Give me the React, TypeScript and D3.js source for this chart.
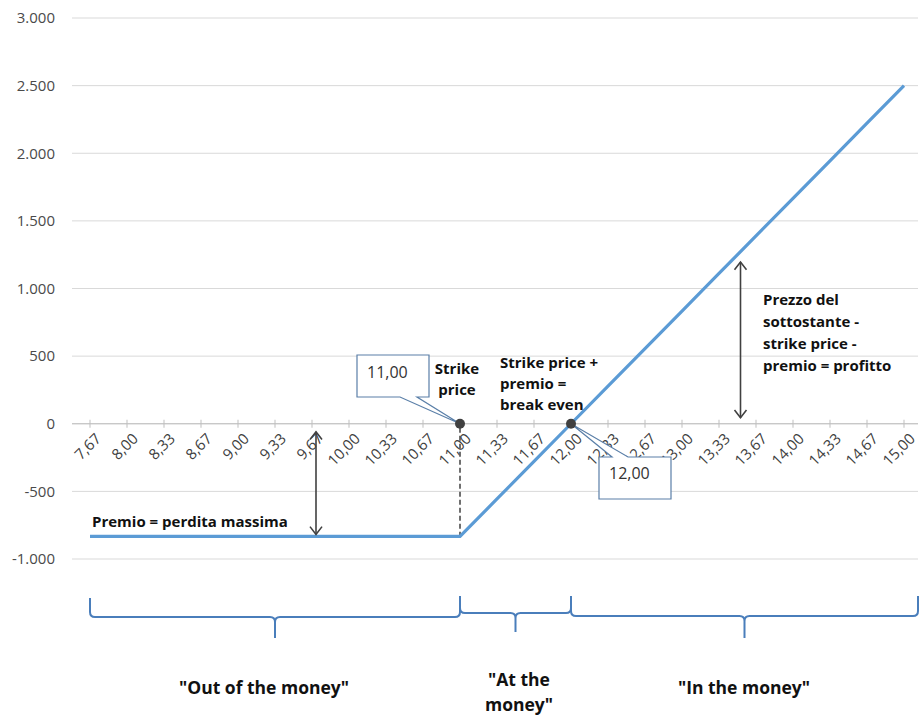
import React from "react";
import * as d3 from "d3";

const categories = ["7,67","8,00","8,33","8,67","9,00","9,33","9,67","10,00","10,33","10,67","11,00","11,33","11,67","12,00","12,33","12,67","13,00","13,33","13,67","14,00","14,33","14,67","15,00"];
const profit = [-833,-833,-833,-833,-833,-833,-833,-833,-833,-833,-833,-556,-278,0,278,556,833,1111,1389,1667,1944,2222,2500];
const yTicks = [-1000,-500,0,500,1000,1500,2000,2500,3000];

const W = 920, H = 715;
const x = d3.scalePoint<string>().domain(categories).range([90, 904]);
const y = d3.scaleLinear().domain([-1000, 3000]).range([559, 18]);
const gridX0 = 72, gridX1 = 918;

const fmtY = (v: number) => {
  const s = d3.format(",")(v).replace(/,/g, ".");
  return s.replace("−", "-");
};

const line = d3.line<number>().x((_, i) => x(categories[i])!).y((d) => y(d));

function brace(x0: number, x1: number, y0: number, ym: number, yt: number) {
  const r = 5;
  const xm = (x0 + x1) / 2;
  return `M${x0},${y0} L${x0},${ym - r} Q${x0},${ym} ${x0 + r},${ym} L${xm - r},${ym} Q${xm},${ym} ${xm},${ym + r} L${xm},${yt} M${xm},${ym + r} Q${xm},${ym} ${xm + r},${ym} L${x1 - r},${ym} Q${x1},${ym} ${x1},${ym - r} L${x1},${y0}`;
}

function DoubleArrow({ x0, y0, y1 }: { x0: number; y0: number; y1: number }) {
  const a = 6;
  return (
    <g stroke="#404040" strokeWidth={1.6} fill="none">
      <line x1={x0} y1={y0} x2={x0} y2={y1} />
      <path d={`M${x0 - a},${y0 + a * 1.3} L${x0},${y0} L${x0 + a},${y0 + a * 1.3}`} />
      <path d={`M${x0 - a},${y1 - a * 1.3} L${x0},${y1} L${x0 + a},${y1 - a * 1.3}`} />
    </g>
  );
}

const SANS = "'Open Sans', 'Noto Sans', sans-serif";

export default function App() {
  const ann = { fontFamily: SANS, fontWeight: 700, fill: "#111" } as const;
  const xs = x("11,00")!;
  const xb = x("12,00")!;
  const y0 = y(0);
  const yp = y(profit[0]);
  const boxStroke = "#5a7fa8";
  return (
    <svg width={W} height={H} style={{ position: "absolute", left: 0, top: 0, background: "#fff" }}>
      {yTicks.map((t) => (
        <g key={t}>
          <line x1={gridX0} x2={gridX1} y1={y(t)} y2={y(t)} stroke="#d9d9d9" strokeWidth={1} />
          <text x={55} y={y(t)} dy="0.35em" textAnchor="end" fontFamily={SANS} fontSize={15} fill="#4a4a4a">
            {fmtY(t)}
          </text>
        </g>
      ))}
      <line x1={gridX0} x2={gridX1} y1={y0} y2={y0} stroke="#bfbfbf" strokeWidth={1} />
      {categories.map((c) => (
        <g key={c}>
          <line x1={x(c)!} x2={x(c)!} y1={y0 - 4} y2={y0 + 4} stroke="#bfbfbf" />
          <text
            transform={`translate(${x(c)! + 4},${y0 + 8}) rotate(-45)`}
            textAnchor="end"
            dy="0.75em"
            fontFamily={SANS}
            fontSize={15}
            fill="#404040"
          >
            {c}
          </text>
        </g>
      ))}
      <line x1={xs} x2={xs} y1={y0 + 4} y2={yp} stroke="#404040" strokeWidth={1.5} strokeDasharray="5,3" />
      <path d={line(profit)!} fill="none" stroke="#5b9bd5" strokeWidth={3.2} />
      <DoubleArrow x0={x("9,67")! + 4} y0={y0 + 8} y1={yp - 2} />
      <DoubleArrow x0={(x("13,33")! + x("13,67")!) / 2 + 3} y0={262} y1={y0 - 6} />
      <path d={`M357,355 L429,355 L429,397 L417,397 L${xs},${y0} L400,397 L357,397 Z`} fill="#fff" stroke={boxStroke} strokeWidth={1.2} />
      <text x={367} y={378} fontFamily={SANS} fontSize={16} fill="#333">11,00</text>
      <path d={`M599,457 L612,457 L${xb},${y0} L628,457 L671,457 L671,499 L599,499 Z`} fill="#fff" stroke={boxStroke} strokeWidth={1.2} />
      <text x={609} y={479} fontFamily={SANS} fontSize={16} fill="#333">12,00</text>
      <circle cx={xs} cy={y0} r={5} fill="#404040" />
      <circle cx={xb} cy={y0} r={5} fill="#404040" />
      <text {...ann} fontSize={15} textAnchor="middle">
        <tspan x={457} y={374}>Strike</tspan>
        <tspan x={457} y={395}>price</tspan>
      </text>
      <text {...ann} fontSize={15}>
        <tspan x={500} y={368}>Strike price +</tspan>
        <tspan x={500} y={389}>premio =</tspan>
        <tspan x={500} y={410}>break even</tspan>
      </text>
      <text {...ann} fontSize={15} x={92} y={527}>Premio = perdita massima</text>
      <text {...ann} fontSize={15}>
        <tspan x={763} y={305}>Prezzo del</tspan>
        <tspan x={763} y={327}>sottostante -</tspan>
        <tspan x={763} y={349}>strike price -</tspan>
        <tspan x={763} y={371}>premio = profitto</tspan>
      </text>
      <g fill="none" stroke="#4a7ebb" strokeWidth={2}>
        <path d={brace(x("7,67")!, xs, 598, 617, 638)} />
        <path d={brace(xs, xb, 596, 613, 632)} />
        <path d={brace(xb, gridX1, 596, 616, 638)} />
      </g>
      <text {...ann} fontSize={17.5} textAnchor="middle" x={264} y={694}>"Out of the money"</text>
      <text {...ann} fontSize={17.5} textAnchor="middle">
        <tspan x={519} y={686}>"At the</tspan>
        <tspan x={519} y={711}>money"</tspan>
      </text>
      <text {...ann} fontSize={17.5} textAnchor="middle" x={744} y={694}>"In the money"</text>
    </svg>
  );
}
